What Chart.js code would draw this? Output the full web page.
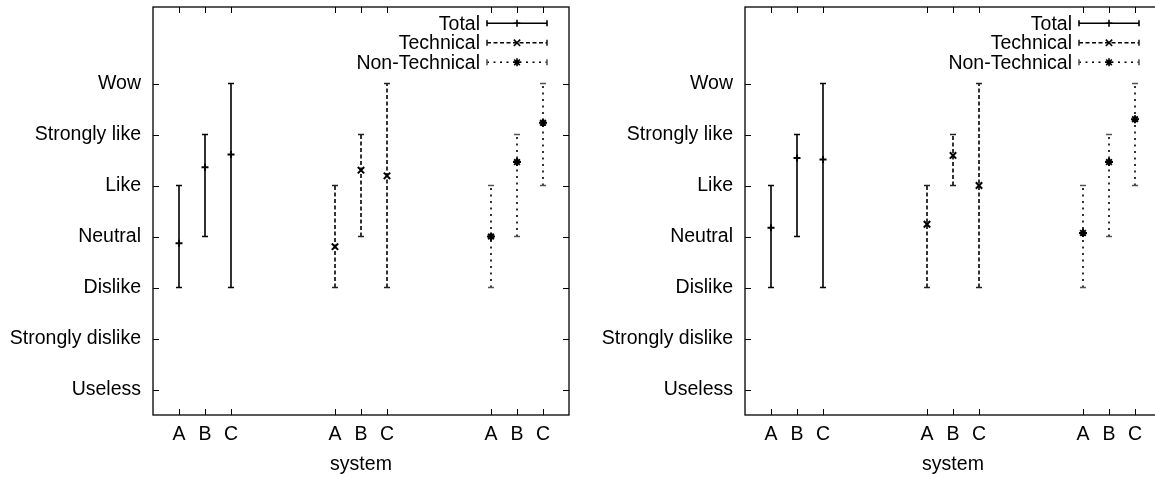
<!DOCTYPE html>
<html lang="en">
<head>
<meta charset="UTF-8">
<title>Ratings per system</title>
<script src="https://cdn.jsdelivr.net/npm/chart.js"></script>
<style>
  body { margin: 0; background: #fff; width: 1155px; height: 477px; overflow: hidden; position: relative; }
  canvas { position: absolute; top: 0; }
  #left { left: 0; }
  #right { left: 592px; }
</style>
</head>
<body>
<canvas id="left" width="580" height="477"></canvas>
<canvas id="right" width="580" height="477"></canvas>
<script>
// rating scale and systems
var ratingLabels = ['Useless', 'Strongly dislike', 'Dislike', 'Neutral', 'Like', 'Strongly like', 'Wow'];
var systems = ['A', 'B', 'C'];
var totalX = [1, 2, 3];
var technicalX = [7, 8, 9];
var nonTechnicalX = [13, 14, 15];

// left plot
var leftTotalMean = [2.87, 4.36, 4.61];
var leftTotalLow = [2, 3, 2];
var leftTotalHigh = [4, 5, 6];
var leftTechMean = [2.80, 4.30, 4.19];
var leftTechLow = [2, 3, 2];
var leftTechHigh = [4, 5, 6];
var leftNonTechMean = [3.00, 4.46, 5.23];
var leftNonTechLow = [2, 3, 4];
var leftNonTechHigh = [4, 5, 6];

// right plot
var rightTotalMean = [3.17, 4.54, 4.51];
var rightTotalLow = [2, 3, 2];
var rightTotalHigh = [4, 5, 6];
var rightTechMean = [3.24, 4.59, 4.00];
var rightTechLow = [2, 4, 2];
var rightTechHigh = [4, 5, 6];
var rightNonTechMean = [3.07, 4.46, 5.30];
var rightNonTechLow = [2, 3, 4];
var rightNonTechHigh = [4, 5, 6];

var xTicks = totalX.concat(technicalX, nonTechnicalX);
var xTickLabels = systems.concat(systems, systems);

var FONT = '"Liberation Sans", Arial, sans-serif';
Chart.defaults.font.family = FONT;
Chart.defaults.font.size = 19.5;
Chart.defaults.color = '#000';

// line / marker look of each series
var styles = {
    'Total': { dash: [], point: 'cross', radius: 3.5, cap: '#000' },
    'Technical': { dash: [4, 2.5], point: 'crossRot', radius: 4.5, cap: '#222' },
    'Non-Technical': { dash: [2, 4.5], point: 'star', radius: 4, cap: '#555' }
};

function errorBarData(xs, lows, highs) {
    var out = [];
    xs.forEach(function (x, i) {
        out.push({ x: x, y: lows[i] }, { x: x, y: highs[i] }, { x: x, y: null });
    });
    return out;
}

function meanData(xs, means) {
    return xs.map(function (x, i) { return { x: x, y: means[i] }; });
}

// box round the plot with inward ticks on all four sides
var framePlugin = {
    id: 'frame',
    afterDraw: function (chart) {
        var ctx = chart.ctx, a = chart.chartArea, sx = chart.scales.x, sy = chart.scales.y;
        ctx.save();
        ctx.strokeStyle = '#000';
        ctx.lineWidth = 1.3;
        ctx.strokeRect(a.left, a.top, a.right - a.left, a.bottom - a.top);
        ctx.lineWidth = 1;
        ctx.beginPath();
        sx.ticks.forEach(function (t) {
            var px = Math.round(sx.getPixelForValue(t.value)) + 0.5;
            ctx.moveTo(px, a.bottom); ctx.lineTo(px, a.bottom - 6);
            ctx.moveTo(px, a.top); ctx.lineTo(px, a.top + 6);
        });
        sy.ticks.forEach(function (t) {
            var py = Math.round(sy.getPixelForValue(t.value)) + 0.5;
            ctx.moveTo(a.left, py); ctx.lineTo(a.left + 6, py);
            ctx.moveTo(a.right, py); ctx.lineTo(a.right - 6, py);
        });
        ctx.stroke();
        ctx.restore();
    }
};

// gnuplot style key: text on the left, sample on the right
var keyPlugin = {
    id: 'gnuKey',
    afterDraw: function (chart) {
        var ctx = chart.ctx, a = chart.chartArea;
        var names = ['Total', 'Technical', 'Non-Technical'];
        var x1 = a.right - 22, x0 = x1 - 60;
        ctx.save();
        names.forEach(function (name, i) {
            var st = styles[name];
            var y = a.top + 16.3 + i * 19.5;
            ctx.font = '19.5px ' + FONT;
            ctx.fillStyle = '#000';
            ctx.textAlign = 'right';
            ctx.textBaseline = 'middle';
            ctx.fillText(name, x0 - 7, y + 1);
            ctx.strokeStyle = '#000';
            ctx.lineWidth = 1.6;
            ctx.setLineDash(st.dash);
            ctx.beginPath();
            ctx.moveTo(x0, y); ctx.lineTo(x1, y);
            ctx.stroke();
            ctx.setLineDash([]);
            ctx.strokeStyle = st.cap;
            ctx.beginPath();
            ctx.moveTo(x0, y - 3); ctx.lineTo(x0, y + 3);
            ctx.moveTo(x1, y - 3); ctx.lineTo(x1, y + 3);
            ctx.stroke();
            ctx.strokeStyle = '#000';
            Chart.helpers.drawPoint(ctx, { pointStyle: st.point, radius: st.radius, rotation: 0, borderWidth: 2 }, (x0 + x1) / 2, y);
        });
        ctx.restore();
    }
};

function makeChart(id, groups) {
    var datasets = [];
    groups.forEach(function (g) {
        var st = styles[g.label];
        datasets.push({
            label: g.label + ' range',
            data: errorBarData(g.xs, g.low, g.high),
            showLine: true,
            spanGaps: false,
            borderColor: '#000',
            borderWidth: 1.6,
            borderDash: st.dash,
            pointStyle: 'line',
            pointRadius: 3,
            pointBorderWidth: 1.5,
            pointBorderColor: st.cap
        });
        datasets.push({
            label: g.label,
            data: meanData(g.xs, g.mean),
            showLine: false,
            pointStyle: st.point,
            pointRadius: st.radius,
            pointBorderWidth: 2,
            pointBorderColor: '#000',
            pointBackgroundColor: '#000'
        });
    });

    return new Chart(document.getElementById(id), {
        type: 'scatter',
        data: { datasets: datasets },
        options: {
            responsive: false,
            animation: false,
            layout: { padding: { top: 7, right: 11, bottom: 0, left: 0 } },
            plugins: { legend: { display: false }, tooltip: { enabled: false } },
            scales: {
                x: {
                    type: 'linear',
                    min: 0,
                    max: 16,
                    afterBuildTicks: function (s) {
                        s.ticks = xTicks.map(function (v) { return { value: v }; });
                    },
                    afterFit: function (s) {
                        s.height = 62;
                        s.paddingLeft = 0;
                        s.paddingRight = 0;
                    },
                    ticks: {
                        autoSkip: false,
                        maxRotation: 0,
                        padding: 8,
                        callback: function (v) {
                            var i = xTicks.indexOf(v);
                            return i >= 0 ? xTickLabels[i] : '';
                        }
                    },
                    grid: { display: false, drawTicks: false },
                    border: { display: false },
                    title: { display: true, text: 'system', padding: { top: 0, bottom: 1 } }
                },
                y: {
                    type: 'linear',
                    min: -0.5,
                    max: 7.5,
                    afterBuildTicks: function (s) {
                        s.ticks = ratingLabels.map(function (l, i) { return { value: i }; });
                    },
                    afterFit: function (s) {
                        s.width = 153;
                        s.paddingTop = 0;
                        s.paddingBottom = 0;
                    },
                    ticks: {
                        padding: 12,
                        callback: function (v) { return ratingLabels[v] !== undefined ? ratingLabels[v] : ''; }
                    },
                    grid: { display: false, drawTicks: false },
                    border: { display: false }
                }
            }
        },
        plugins: [framePlugin, keyPlugin]
    });
}

makeChart('left', [
    { label: 'Total', xs: totalX, mean: leftTotalMean, low: leftTotalLow, high: leftTotalHigh },
    { label: 'Technical', xs: technicalX, mean: leftTechMean, low: leftTechLow, high: leftTechHigh },
    { label: 'Non-Technical', xs: nonTechnicalX, mean: leftNonTechMean, low: leftNonTechLow, high: leftNonTechHigh }
]);

makeChart('right', [
    { label: 'Total', xs: totalX, mean: rightTotalMean, low: rightTotalLow, high: rightTotalHigh },
    { label: 'Technical', xs: technicalX, mean: rightTechMean, low: rightTechLow, high: rightTechHigh },
    { label: 'Non-Technical', xs: nonTechnicalX, mean: rightNonTechMean, low: rightNonTechLow, high: rightNonTechHigh }
]);
</script>
</body>
</html>
